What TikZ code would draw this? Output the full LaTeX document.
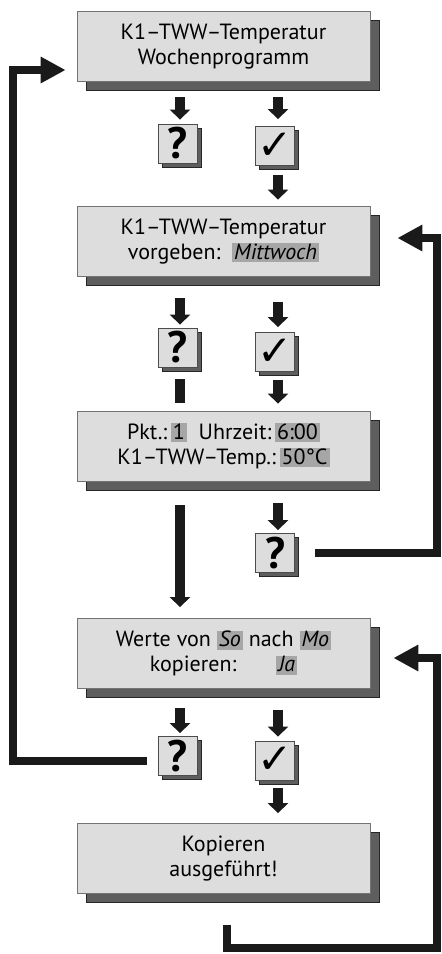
\documentclass[tikz,border=0pt]{standalone}
\usepackage{fontspec}
\setmainfont{PT Sans}
\newfontfamily\symfont{DejaVu Sans}
\usetikzlibrary{arrows.meta,shadows,calc}
\definecolor{boxc}{HTML}{DDDDDD}
\definecolor{shc}{HTML}{5E5E5E}
\definecolor{hlc}{HTML}{A6A6A6}
\definecolor{arrc}{HTML}{1A1A1A}
\newcommand{\hlbox}[1]{{\setlength{\fboxsep}{0pt}\colorbox{hlc}{\rule[-3pt]{0pt}{19pt}\hspace{2pt}#1\hspace{2pt}}}}
\begin{document}
\begin{tikzpicture}[x=1pt,y=1pt,
 mainbox/.style={draw=black!55, line width=0.8pt, fill=boxc, minimum width=293pt, minimum height=70pt, inner sep=0pt, align=center, font=\fontsize{22}{25}\selectfont, drop shadow={shadow xshift=9pt, shadow yshift=-9pt, fill=shc, draw=black!85, line width=0.8pt, opacity=1}},
 smallbox/.style={draw=black!70, line width=0.8pt, fill=boxc, minimum size=39pt, inner sep=0pt, drop shadow={shadow xshift=4pt, shadow yshift=-4pt, fill=shc, draw=black!85, line width=0.8pt, opacity=1}},
 qbox/.style={smallbox, font=\fontsize{44}{44}\bfseries\selectfont},
 cbox/.style={smallbox, font=\symfont\fontsize{42}{42}\selectfont},
 arr/.style={draw=arrc, line width=10pt, -{Triangle[width=20pt,length=10pt]}},
 barline/.style={draw=arrc, line width=10pt},
 loop/.style={draw=arrc, line width=8pt, line join=miter, -{Triangle[width=25pt,length=25pt]}},
 ]
\path[use as bounding box, fill=white] (0,0) rectangle (442,-954);

\node[mainbox] (b1) at (223.5,-46.5) {K1–TWW–Temperatur\\Wochenprogramm};
\node[mainbox] (b2) at (223.5,-241) {K1–TWW–Temperatur\\vorgeben:\ \ \hlbox{\itshape Mittwoch}};
\node[mainbox] (b3) at (223.5,-446) {Pkt.:\,\hlbox{1}\ \ Uhrzeit:\,\hlbox{6:00}\\K1–TWW–Temp.:\,\hlbox{50°C}};
\node[mainbox] (b4) at (223.5,-653.5) {Werte von \hlbox{\itshape So} nach \hlbox{\itshape Mo}\\kopieren:\hspace{40pt}\hlbox{\itshape Ja}};
\node[mainbox] (b5) at (223.5,-858.5) {Kopieren\\ausgeführt!};

\node[qbox] (q1) at (177.5,-143.5) {?};
\node[cbox] (c1) at (275,-146) {✓};
\node[qbox] (q2) at (177.5,-347.5) {?};
\node[cbox] (c2) at (275,-352) {✓};
\node[qbox] (q3) at (275,-553) {?};
\node[qbox] (q4) at (177.5,-756) {?};
\node[cbox] (c4) at (275,-760.5) {✓};

% short arrows
\draw[arr] ($(b1.south -| q1.north)+(2.5,-15)$) -- ($(q1.north)+(2.5,4)$);
\draw[arr] ($(b1.south -| c1.north)+(3,-15)$) -- ($(c1.north)+(3,7)$);
\draw[arr] ($(c1.south)+(3,-9)$) -- ($(b2.north -| c1.south)+(3,6)$);
\draw[arr] ($(b2.south -| q2.north)+(2.5,-22)$) -- ($(q2.north)+(2.5,3)$);
\draw[arr] ($(b2.south -| c2.north)+(3,-26)$) -- ($(c2.north)+(3,5)$);
\draw[barline] ($(q2.south)+(2.5,-12)$) -- ($(b3.north -| q2.south)+(2.5,8)$);
\draw[arr] ($(c2.south)+(3,-8)$) -- ($(b3.north -| c2.south)+(3,7)$);
\draw[arr] ($(b3.south -| q2.south)+(2.5,-24)$) -- ($(b4.north -| q2.south)+(2.5,11)$);
\draw[arr] ($(b3.south -| q3.north)+(3,-22)$) -- ($(q3.north)+(3,3)$);
\draw[arr] ($(b4.south -| q4.north)+(2.5,-19)$) -- ($(q4.north)+(2.5,3)$);
\draw[arr] ($(b4.south -| c4.north)+(3,-21)$) -- ($(c4.north)+(3,4)$);
\draw[arr] ($(c4.south)+(3,-8)$) -- ($(b5.north -| c4.south)+(3,10)$);

% loops
\coordinate (lc) at (13,-70);
\draw[loop] ($(q4.west)+(-11,-5)$) -| (lc) -- ($(b1.west)+(-11,-23.5)$);
\coordinate (rc1) at (437,-238);
\draw[loop] ($(q3.east)+(20.5,0.5)$) -| (rc1) -- ($(b2.east)+(27,3)$);
\coordinate (rc2) at (437,-948);
\draw[loop] ($(b5.south)+(3.5,-31)$) |- (rc2) |- ($(b4.east)+(23,-4.5)$);
\end{tikzpicture}
\end{document}
